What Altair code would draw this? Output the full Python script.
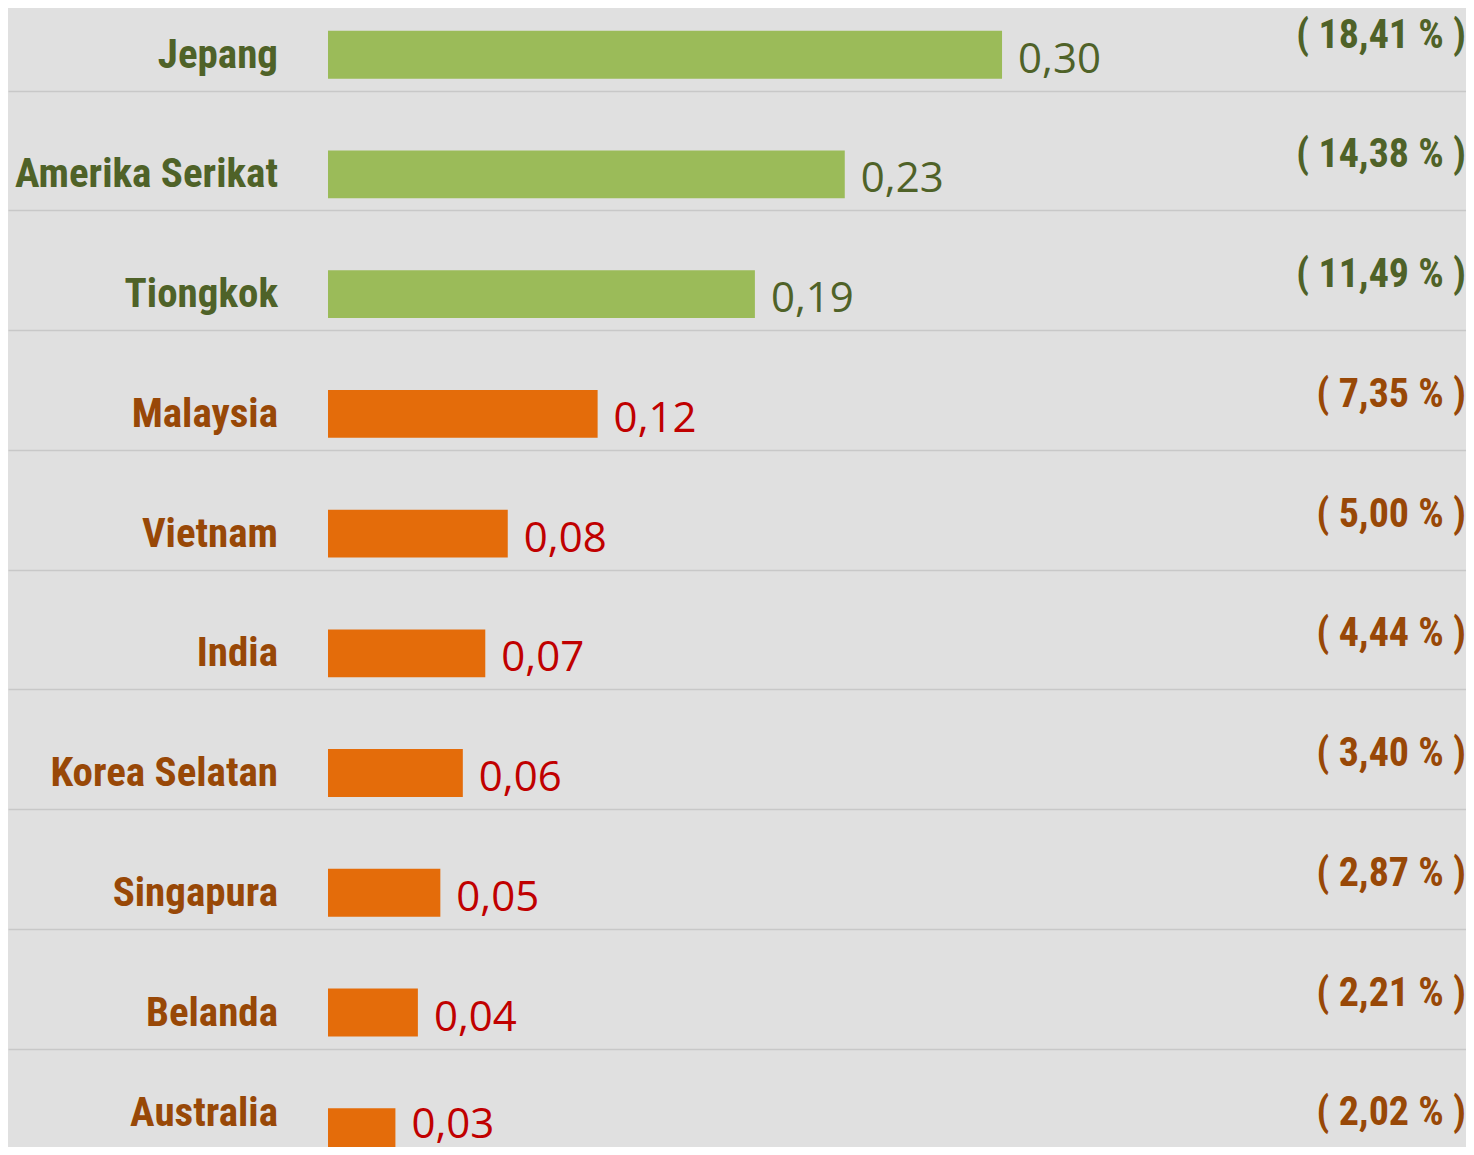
import altair as alt
import pandas as pd

countries = ["Jepang", "Amerika Serikat", "Tiongkok", "Malaysia", "Vietnam",
             "India", "Korea Selatan", "Singapura", "Belanda", "Australia"]
values = [0.30, 0.23, 0.19, 0.12, 0.08, 0.07, 0.06, 0.05, 0.04, 0.03]
value_labels = ["0,30", "0,23", "0,19", "0,12", "0,08", "0,07", "0,06", "0,05", "0,04", "0,03"]
pct_labels = ["( 18,41 % )", "( 14,38 % )", "( 11,49 % )", "( 7,35 % )", "( 5,00 % )",
              "( 4,44 % )", "( 3,40 % )", "( 2,87 % )", "( 2,21 % )", "( 2,02 % )"]
groups = ["top"] * 3 + ["other"] * 7

df = pd.DataFrame({
    "country": countries,
    "value": values,
    "vlabel": value_labels,
    "pct": pct_labels,
    "group": groups,
})

GROUP_DOMAIN = ["top", "other"]
BAR_COLORS = ["#9BBB59", "#E46C0A"]
NAME_COLORS = ["#4F6228", "#984807"]
VALUE_COLORS = ["#4F6228", "#C00000"]
NARROW = "Roboto Condensed, Noto Sans Condensed, Liberation Sans Narrow, Arial Narrow, DejaVu Sans Condensed, sans-serif"

W, H = 1458, 1139

yscale = alt.Scale(domain=countries, range=[22.75, 1148.2], paddingInner=0.6, paddingOuter=0)
xscale = alt.Scale(domain=[-0.14243, 0.5065], range=[0, W], zero=False, nice=False)

yaxis = alt.Axis(title=None, labels=False, ticks=False, domain=False,
                 grid=True, gridColor="#C8C8C8", gridWidth=1.5,
                 bandPosition=0.5, tickOffset=36)
y_enc = alt.Y("country:N", scale=yscale, sort=countries, axis=yaxis)

base = alt.Chart(df)

bars = base.mark_bar().encode(
    y=y_enc,
    x=alt.X("value:Q", scale=xscale, axis=None),
    x2=alt.X2(datum=0),
    color=alt.Color("group:N", scale=alt.Scale(domain=GROUP_DOMAIN, range=BAR_COLORS), legend=None),
)

# the last row is cut by the bottom edge; its texts are lifted a little to stay visible
last = countries[-1]
val_dy = alt.ExprRef(f"datum.country === '{last}' ? 6 : 18")
name_dy = alt.ExprRef(f"datum.country === '{last}' ? -6 : 13")

vals = base.mark_text(align="left", baseline="alphabetic", dx=16, dy=val_dy,
                      font="Open Sans", fontSize=42).encode(
    y=y_enc,
    x=alt.X("value:Q", scale=xscale, axis=None),
    text="vlabel:N",
    color=alt.Color("group:N", scale=alt.Scale(domain=GROUP_DOMAIN, range=VALUE_COLORS), legend=None),
)

names = base.mark_text(align="right", baseline="alphabetic", dx=-50, dy=name_dy,
                       font=NARROW, fontWeight="bold", fontSize=41).encode(
    y=y_enc,
    x=alt.X(datum=0, scale=xscale, axis=None),
    text="country:N",
    color=alt.Color("group:N", scale=alt.Scale(domain=GROUP_DOMAIN, range=NAME_COLORS), legend=None),
)

pcts = base.mark_text(align="right", baseline="alphabetic", dy=-7,
                      font=NARROW, fontWeight="bold", fontSize=40).encode(
    y=y_enc,
    x=alt.value("width"),
    text="pct:N",
    color=alt.Color("group:N", scale=alt.Scale(domain=GROUP_DOMAIN, range=NAME_COLORS), legend=None),
)

chart = alt.layer(bars, vals, names, pcts).resolve_scale(color="independent").properties(
    width=W, height=H,
    autosize=alt.AutoSizeParams(type="none"),
    padding=0,
    background="#E0E0E0",
).configure_view(stroke=None)

chart.save("out.html", embed_options={"renderer": "svg", "actions": False})
